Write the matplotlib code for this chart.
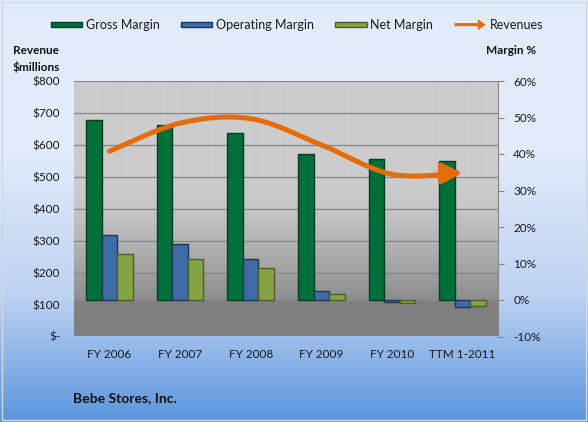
import matplotlib
matplotlib.use("Agg")
import matplotlib.pyplot as plt
import matplotlib.patches as mpatches
from matplotlib.path import Path
from matplotlib.legend_handler import HandlerPatch
from matplotlib.colors import LinearSegmentedColormap
import numpy as np

plt.rcParams['font.family'] = ['Lato', 'DejaVu Sans']

# data
years = ['FY 2006', 'FY 2007', 'FY 2008', 'FY 2009', 'FY 2010', 'TTM 1-2011']
gross_margin = [49.2, 47.9, 45.7, 40.1, 38.7, 38.2]
operating_margin = [17.9, 15.4, 11.2, 2.5, -0.6, -1.9]
net_margin = [12.5, 11.3, 8.8, 1.6, -0.8, -1.7]
revenues = [580, 668, 682, 600, 508, 512]

rev_ticks = [0, 100, 200, 300, 400, 500, 600, 700, 800]
rev_labels = ['$-', '$100', '$200', '$300', '$400', '$500', '$600', '$700', '$800']
pct_ticks = [-10, 0, 10, 20, 30, 40, 50, 60]
pct_labels = ['-10%', '0%', '10%', '20%', '30%', '40%', '50%', '60%']

W, H = 588, 422
fig = plt.figure(figsize=(W / 100, H / 100), dpi=100)

# figure background gradient (pale top, blue bottom)
bg = fig.add_axes([0, 0, 1, 1], zorder=-10)
bg_cmap = LinearSegmentedColormap.from_list('bg', [
    (0.0, (0.882, 0.922, 0.980)),
    (0.35, (0.886, 0.925, 0.984)),
    (0.70, (0.745, 0.824, 0.950)),
    (1.0, (0.355, 0.585, 0.870))])
bg.imshow(np.linspace(0, 1, 256).reshape(-1, 1), aspect='auto', cmap=bg_cmap,
          extent=[0, 1, 0, 1], origin='upper')
bg.set_xlim(0, 1)
bg.set_ylim(0, 1)
bg.axis('off')
bg.add_patch(mpatches.Rectangle((2 / W, 2 / H), 1 - 4 / W, 1 - 4 / H, fill=False,
                                edgecolor='#d0d8e4', lw=1))

# plot area
ax = fig.add_axes([74 / W, (H - 336.5) / H, 424 / W, 255.5 / H])
ax.patch.set_visible(False)
plot_cmap = LinearSegmentedColormap.from_list('plot', [
    (0.0, (0.50, 0.50, 0.50)),
    (0.135, (0.50, 0.50, 0.50)),
    (0.14, (0.55, 0.55, 0.55)),
    (0.25, (0.63, 0.63, 0.63)),
    (0.375, (0.71, 0.71, 0.71)),
    (0.50, (0.78, 0.78, 0.78)),
    (0.62, (0.80, 0.80, 0.80)),
    (1.0, (0.80, 0.80, 0.80))])
ax.imshow(np.linspace(0, 1, 512).reshape(-1, 1), aspect='auto', cmap=plot_cmap,
          extent=[0, 1, 0, 1], origin='lower', transform=ax.transAxes, zorder=0)

x = np.arange(len(years))
ax.set_xlim(-0.5, len(years) - 0.5)
ax.set_ylim(0, 800)
ax.set_yticks(rev_ticks)
ax.set_yticklabels(rev_labels)
for t in rev_ticks[1:]:
    ax.axhline(t, color='#868686', lw=0.9, zorder=1)
ax.set_xticks(x)
ax.set_xticklabels(years)
ax.tick_params(axis='y', length=0, pad=10, labelsize=8.5, colors='#1a1a1a')
ax.tick_params(axis='x', length=0, pad=9, labelsize=8.5, colors='#1a1a1a')
for s in ax.spines.values():
    s.set_visible(False)

# margin bars on the right axis
axm = ax.twinx()
axm.set_ylim(-10, 60)
w = 0.22
axm.bar(x - w, gross_margin, w, color='#00703a', edgecolor='#0a3a1f', lw=1, zorder=3)
axm.bar(x, operating_margin, w, color='#3f6ca6', edgecolor='#1e3658', lw=1, zorder=3)
axm.bar(x + w, net_margin, w, color='#84a443', edgecolor='#4a5f25', lw=1, zorder=3)
axm.set_yticks(pct_ticks)
axm.set_yticklabels(pct_labels)
axm.tick_params(axis='y', length=4, width=0.8, color='#868686', pad=7, labelsize=8.5,
                labelcolor='#1a1a1a')
for k, s in axm.spines.items():
    s.set_visible(k == 'right')
axm.spines['right'].set_color('#868686')

# smoothed revenue line with arrow head, on the left scale
axl = ax.twinx()
axl.set_ylim(0, 800)
axl.set_yticks([])
for s in axl.spines.values():
    s.set_visible(False)
pts = np.column_stack([x, revenues]).astype(float)
verts = [tuple(pts[0])]
codes = [Path.MOVETO]
for i in range(len(pts) - 1):
    p0 = pts[max(i - 1, 0)]
    p1 = pts[i]
    p2 = pts[i + 1]
    p3 = pts[min(i + 2, len(pts) - 1)]
    c1 = p1 + (p2 - p0) / 6
    c2 = p2 - (p3 - p1) / 6
    verts += [tuple(c1), tuple(c2), tuple(p2)]
    codes += [Path.CURVE4] * 3
rev_path = Path(verts, codes)
arrow = mpatches.FancyArrowPatch(path=rev_path,
                                 arrowstyle='-|>,head_length=0.6,head_width=0.3',
                                 mutation_scale=20, color='#e46c0a', lw=3.6,
                                 capstyle='round', joinstyle='round', zorder=5)
axl.add_patch(arrow)


def bar_handle(legend, orig_handle, xdescent, ydescent, width, height, fontsize):
    h = height * 0.55
    return mpatches.Rectangle((-xdescent, -ydescent + (height - h) / 2), width, h)


def arrow_handle(legend, orig_handle, xdescent, ydescent, width, height, fontsize):
    return mpatches.FancyArrow(-xdescent, -ydescent + height / 2, width, 0,
                               width=height * 0.35, head_width=height * 1.25,
                               head_length=height * 0.9, length_includes_head=True)


handles = [
    mpatches.Patch(facecolor='#00703a', edgecolor='#0a3a1f', lw=1, label='Gross Margin'),
    mpatches.Patch(facecolor='#3f6ca6', edgecolor='#1e3658', lw=1, label='Operating Margin'),
    mpatches.Patch(facecolor='#84a443', edgecolor='#4a5f25', lw=1, label='Net Margin'),
    mpatches.Patch(facecolor='#e46c0a', edgecolor='none', label='Revenues'),
]
hmap = {handles[0]: HandlerPatch(patch_func=bar_handle),
        handles[1]: HandlerPatch(patch_func=bar_handle),
        handles[2]: HandlerPatch(patch_func=bar_handle),
        handles[3]: HandlerPatch(patch_func=arrow_handle)}
fig.legend(handles=handles, handler_map=hmap, ncol=4, loc='center',
           bbox_to_anchor=(297 / W, 1 - 25 / H), frameon=False, fontsize=9,
           handlelength=2.5, handletextpad=0.3, columnspacing=1.7,
           labelcolor='#1a1a1a')

fig.text(13 / W, 1 - 59 / H, 'Revenue\n$millions', fontsize=8.5, fontweight='bold',
         ha='left', va='center', linespacing=1.45, color='#111111')
fig.text(536 / W, 1 - 50 / H, 'Margin %', fontsize=8.5, fontweight='bold',
         ha='right', va='center', color='#111111')
fig.text(73 / W, 1 - 398 / H, 'Bebe Stores, Inc.', fontsize=10, fontweight='bold',
         ha='left', va='center', color='#111111')

fig.savefig('out.png', dpi=100)
